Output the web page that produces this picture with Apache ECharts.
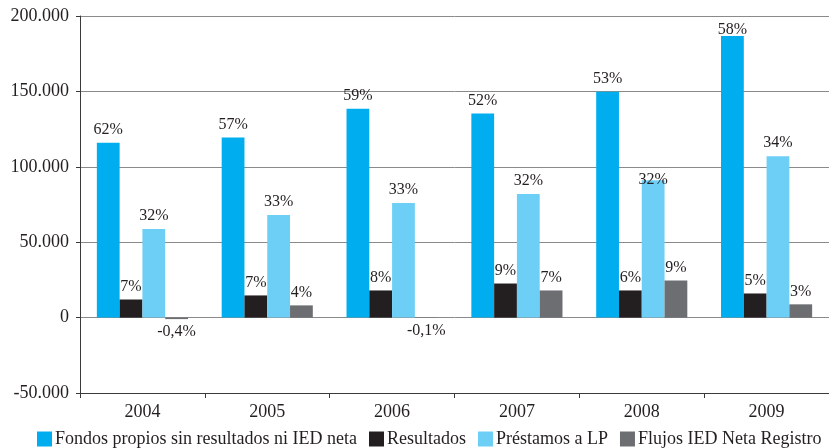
<!DOCTYPE html>
<html>
<head>
<meta charset="utf-8">
<script src="https://cdn.jsdelivr.net/npm/echarts@6/dist/echarts.min.js"></script>
<style>
  html, body { margin: 0; padding: 0; background: #fff; }
  #chart { width: 829px; height: 448px; }
</style>
</head>
<body>
<div id="chart"></div>
<script>
// Years on the category axis
const years = ['2004', '2005', '2006', '2007', '2008', '2009'];

// Series values
const fondosPropios = [116000, 119400, 138500, 135300, 149800, 186800];
const resultados = [12000, 14700, 18000, 22600, 18000, 16000];
const prestamosLP = [58800, 68000, 76000, 82000, 91000, 107000];
const flujosIED = [-1000, 8100, -200, 18000, 24600, 8800];

// Share labels shown above each bar
const fondosPct = ['62%', '57%', '59%', '52%', '53%', '58%'];
const resultadosPct = ['7%', '7%', '8%', '9%', '6%', '5%'];
const prestamosPct = ['32%', '33%', '33%', '32%', '32%', '34%'];
const flujosPct = ['-0,4%', '4%', '-0,1%', '7%', '9%', '3%'];

// Legend names
const seriesNames = [
  'Fondos propios sin resultados ni IED neta',
  'Resultados',
  'Préstamos a LP',
  'Flujos IED Neta Registro'
];

// Y-axis range
const yMin = -50000, yMax = 200000, yStep = 50000;

const colors = ['#00AEEF', '#231F20', '#6DCFF6', '#6D6E71'];
const serif = '"Liberation Serif", "Times New Roman", serif';
const ink = '#231F20';

// A couple of labels sit lower than usual (series index -> year index -> dy)
const labelNudge = { 0: { 5: 7 }, 2: { 4: 12 } };

function thousands(v) {
  const s = Math.abs(v).toString().replace(/\B(?=(\d{3})+(?!\d))/g, '.');
  return (v < 0 ? '-' : '') + s;
}

function makeSeries(idx, values, pcts) {
  return {
    name: seriesNames[idx],
    type: 'bar',
    barGap: '0%',
    barCategoryGap: '27%',
    itemStyle: { color: colors[idx] },
    data: values.map((v, i) => {
      const nudge = (labelNudge[idx] && labelNudge[idx][i]) || 0;
      return {
        value: v,
        label: {
          show: true,
          position: v < 0 ? 'bottom' : 'top',
          distance: 5,
          offset: [0, nudge],
          formatter: () => pcts[i],
          fontFamily: serif,
          fontSize: 16,
          color: ink
        }
      };
    })
  };
}

const chart = echarts.init(document.getElementById('chart'), null, { renderer: 'canvas' });
chart.setOption({
  animation: false,
  backgroundColor: '#ffffff',
  textStyle: { fontFamily: serif, color: ink },
  grid: { left: 80, top: 16, width: 752, bottom: 55, containLabel: false },
  legend: {
    left: 37,
    top: 430,
    padding: 0,
    itemWidth: 15,
    itemHeight: 15,
    itemGap: 12,
    icon: 'rect',
    textStyle: { fontFamily: serif, fontSize: 18, color: ink, padding: [0, 0, 0, -2] },
    data: seriesNames
  },
  xAxis: {
    type: 'category',
    data: years,
    position: 'bottom',
    axisLine: { onZero: false, lineStyle: { color: '#3a3a3a', width: 1 } },
    axisTick: { show: true, length: 5, alignWithLabel: false, lineStyle: { color: '#3a3a3a' } },
    axisLabel: { fontFamily: serif, fontSize: 18, color: ink, margin: 10 },
    splitLine: { show: false }
  },
  yAxis: {
    type: 'value',
    min: yMin,
    max: yMax,
    interval: yStep,
    axisLine: { show: true, lineStyle: { color: '#3a3a3a', width: 1 } },
    axisTick: { show: true, length: 4, lineStyle: { color: '#3a3a3a' } },
    axisLabel: { fontFamily: serif, fontSize: 18, color: ink, margin: 11, formatter: thousands },
    splitLine: { show: true, lineStyle: { color: '#8a8a8a', width: 1 } }
  },
  series: [
    makeSeries(0, fondosPropios, fondosPct),
    makeSeries(1, resultados, resultadosPct),
    makeSeries(2, prestamosLP, prestamosPct),
    makeSeries(3, flujosIED, flujosPct)
  ]
});
</script>
</body>
</html>
